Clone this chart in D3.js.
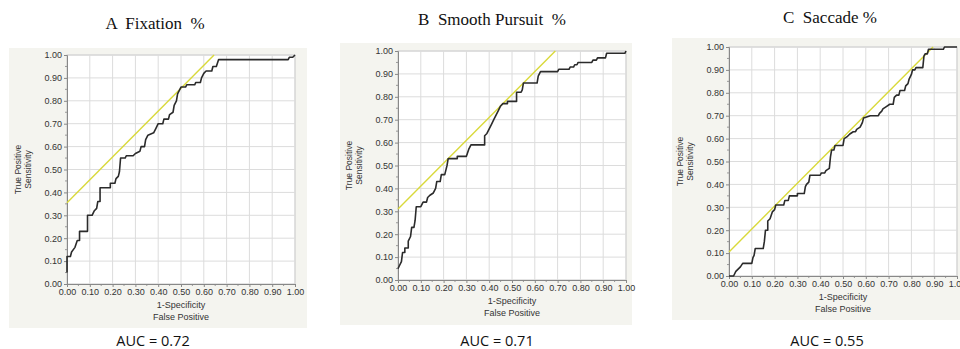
<!DOCTYPE html>
<html>
<head>
<meta charset="utf-8">
<script src="https://cdn.jsdelivr.net/npm/d3@7"></script>
<style>
  body { margin: 0; background: #fff; }
  svg { display: block; }
</style>
</head>
<body>
<div id="chart"></div>
<script>
// ROC points: [1-specificity, sensitivity]
const fixationRoc = [
  [0,0.05],[0,0.12],[0.015,0.12],[0.02,0.14],[0.035,0.16],[0.045,0.19],[0.055,0.19],[0.055,0.23],
  [0.09,0.23],[0.09,0.30],[0.11,0.30],[0.12,0.32],[0.13,0.33],[0.135,0.36],[0.145,0.36],[0.145,0.42],
  [0.19,0.42],[0.19,0.44],[0.21,0.44],[0.215,0.46],[0.225,0.47],[0.23,0.49],[0.235,0.55],[0.255,0.55],
  [0.26,0.56],[0.29,0.56],[0.30,0.57],[0.32,0.58],[0.325,0.60],[0.34,0.60],[0.345,0.63],[0.355,0.65],
  [0.38,0.66],[0.39,0.68],[0.40,0.70],[0.42,0.70],[0.425,0.72],[0.445,0.72],[0.45,0.74],[0.465,0.75],
  [0.47,0.78],[0.48,0.80],[0.485,0.83],[0.495,0.85],[0.50,0.86],[0.52,0.86],[0.525,0.87],[0.56,0.87],
  [0.565,0.88],[0.585,0.88],[0.59,0.90],[0.60,0.92],[0.61,0.93],[0.635,0.93],[0.64,0.95],[0.655,0.95],
  [0.665,0.98],[0.97,0.98],[0.975,0.99],[0.99,0.99],[1.0,1.0]
];
const pursuitRoc = [
  [0,0.05],[0.005,0.06],[0.015,0.08],[0.02,0.12],[0.03,0.12],[0.03,0.14],[0.045,0.14],[0.045,0.17],
  [0.055,0.19],[0.06,0.23],[0.07,0.23],[0.075,0.26],[0.08,0.32],[0.10,0.32],[0.11,0.34],[0.125,0.34],
  [0.13,0.36],[0.14,0.37],[0.155,0.38],[0.165,0.40],[0.17,0.43],[0.185,0.43],[0.19,0.46],[0.205,0.46],
  [0.21,0.48],[0.215,0.50],[0.22,0.53],[0.26,0.53],[0.26,0.54],[0.30,0.54],[0.31,0.57],[0.32,0.59],
  [0.38,0.59],[0.38,0.63],[0.39,0.64],[0.40,0.66],[0.41,0.68],[0.42,0.70],[0.43,0.72],[0.44,0.74],
  [0.45,0.76],[0.46,0.77],[0.48,0.77],[0.48,0.78],[0.52,0.78],[0.52,0.82],[0.54,0.82],[0.545,0.83],
  [0.55,0.86],[0.61,0.86],[0.615,0.89],[0.625,0.91],[0.70,0.91],[0.705,0.92],[0.75,0.92],[0.755,0.93],
  [0.77,0.93],[0.775,0.94],[0.785,0.94],[0.79,0.95],[0.85,0.95],[0.855,0.96],[0.87,0.96],[0.875,0.97],
  [0.91,0.97],[0.915,0.99],[0.995,0.99],[1.0,1.0]
];
const saccadeRoc = [
  [0,0],[0.02,0],[0.03,0.02],[0.04,0.03],[0.05,0.04],[0.06,0.055],[0.10,0.055],[0.105,0.08],
  [0.11,0.09],[0.115,0.12],[0.15,0.12],[0.155,0.15],[0.16,0.20],[0.17,0.20],[0.17,0.24],[0.18,0.25],
  [0.19,0.28],[0.20,0.29],[0.205,0.31],[0.24,0.31],[0.245,0.33],[0.26,0.33],[0.265,0.35],[0.30,0.35],
  [0.30,0.36],[0.33,0.36],[0.335,0.39],[0.34,0.40],[0.35,0.41],[0.355,0.44],[0.40,0.44],[0.405,0.45],
  [0.42,0.45],[0.425,0.46],[0.44,0.47],[0.445,0.52],[0.45,0.55],[0.46,0.55],[0.465,0.57],[0.50,0.57],
  [0.505,0.60],[0.52,0.61],[0.53,0.62],[0.545,0.63],[0.555,0.63],[0.56,0.64],[0.575,0.65],[0.585,0.67],
  [0.59,0.69],[0.62,0.70],[0.655,0.70],[0.66,0.71],[0.67,0.72],[0.675,0.73],[0.69,0.74],[0.705,0.75],
  [0.72,0.75],[0.725,0.78],[0.735,0.79],[0.745,0.79],[0.75,0.81],[0.77,0.81],[0.775,0.83],[0.785,0.84],
  [0.79,0.86],[0.80,0.88],[0.805,0.90],[0.815,0.90],[0.82,0.91],[0.85,0.91],[0.855,0.96],[0.86,0.97],
  [0.87,0.97],[0.875,0.99],[0.94,0.99],[0.945,1.0],[1.0,1.0]
];
const titles = ["A  Fixation  %", "B  Smooth Pursuit  %", "C  Saccade %"];
const aucValues = [0.72, 0.71, 0.55];
// intercept of the yellow tangent line (slope 1)
const tangentIntercepts = [0.355, 0.31, 0.105];
const tickValues = d3.range(0, 1.0001, 0.1);

const panels = [
  { roc: fixationRoc, left: 67,  top: 55, box: [9, 48, 298, 280],  titleX: 155, titleY: 29, aucX: 153 },
  { roc: pursuitRoc,  left: 398, top: 51, box: [340, 43, 292, 282], titleX: 492, titleY: 25, aucX: 497 },
  { roc: saccadeRoc,  left: 729, top: 47, box: [672, 38, 290, 282], titleX: 830, titleY: 23, aucX: 827 }
];
const pw = 228, ph = 229;
const sans = "'Liberation Sans', Arial, sans-serif";

const svg = d3.select("#chart").append("svg")
  .attr("width", 960).attr("height", 349);

panels.forEach(function(p, i) {
  svg.append("rect")
    .attr("x", p.box[0]).attr("y", p.box[1])
    .attr("width", p.box[2]).attr("height", p.box[3])
    .attr("fill", "#f4f4ef");

  svg.append("text")
    .attr("x", p.titleX).attr("y", p.titleY)
    .attr("text-anchor", "middle")
    .style("font-family", "'Liberation Serif', 'Times New Roman', serif")
    .style("font-size", "17px")
    .style("white-space", "pre")
    .attr("fill", "#111")
    .text(titles[i]);

  svg.append("text")
    .attr("x", p.aucX).attr("y", 346)
    .attr("text-anchor", "middle")
    .style("font-family", "'Open Sans', 'Liberation Sans', sans-serif")
    .style("font-size", "14.5px")
    .attr("fill", "#111")
    .text("AUC = " + aucValues[i].toFixed(2));

  const g = svg.append("g").attr("transform", `translate(${p.left},${p.top})`);
  const x = d3.scaleLinear().domain([0, 1]).range([0, pw]);
  const y = d3.scaleLinear().domain([0, 1]).range([ph, 0]);

  g.append("rect").attr("width", pw).attr("height", ph).attr("fill", "#fff")
    .attr("stroke", "#c8c8c8").attr("stroke-width", 1);

  // grid
  g.append("g").selectAll("line").data(tickValues.slice(1)).enter().append("line")
    .attr("x1", d => x(d)).attr("x2", d => x(d)).attr("y1", 0).attr("y2", ph)
    .attr("stroke", "#dcdcdc").attr("stroke-width", 1);
  g.append("g").selectAll("line").data(tickValues.slice(1)).enter().append("line")
    .attr("y1", d => y(d)).attr("y2", d => y(d)).attr("x1", 0).attr("x2", pw)
    .attr("stroke", "#dcdcdc").attr("stroke-width", 1);

  // minor ticks
  const minor = d3.range(0.05, 1, 0.1);
  g.append("g").selectAll("line").data(minor).enter().append("line")
    .attr("x1", -2).attr("x2", 0).attr("y1", d => y(d)).attr("y2", d => y(d))
    .attr("stroke", "#999");
  g.append("g").selectAll("line").data(minor).enter().append("line")
    .attr("y1", ph).attr("y2", ph + 2).attr("x1", d => x(d)).attr("x2", d => x(d))
    .attr("stroke", "#999");

  const xAxis = d3.axisBottom(x).tickValues(tickValues).tickFormat(d3.format(".2f")).tickSize(3).tickPadding(2);
  const yAxis = d3.axisLeft(y).tickValues(tickValues).tickFormat(d3.format(".2f")).tickSize(3).tickPadding(2);

  [g.append("g").attr("transform", `translate(0,${ph})`).call(xAxis),
   g.append("g").call(yAxis)].forEach(function(ax) {
    ax.select(".domain").attr("stroke", "#888");
    ax.selectAll(".tick line").attr("stroke", "#888");
    ax.selectAll("text")
      .style("font-family", sans)
      .style("font-size", "9px")
      .attr("fill", "#333");
  });

  g.append("text").attr("x", pw / 2).attr("y", ph + 24).attr("text-anchor", "middle")
    .style("font-family", sans).style("font-size", "9px")
    .attr("fill", "#333").text("1-Specificity");
  g.append("text").attr("x", pw / 2).attr("y", ph + 36).attr("text-anchor", "middle")
    .style("font-family", sans).style("font-size", "9px")
    .attr("fill", "#333").text("False Positive");

  g.append("text").attr("transform", `translate(-46,${ph / 2}) rotate(-90)`).attr("text-anchor", "middle")
    .style("font-family", sans).style("font-size", "8.5px")
    .attr("fill", "#333").text("True Positive");
  g.append("text").attr("transform", `translate(-36,${ph / 2}) rotate(-90)`).attr("text-anchor", "middle")
    .style("font-family", sans).style("font-size", "8.5px")
    .attr("fill", "#333").text("Sensitivity");

  // tangent line
  const b = tangentIntercepts[i];
  g.append("line")
    .attr("x1", x(0)).attr("y1", y(b))
    .attr("x2", x(1 - b)).attr("y2", y(1))
    .attr("stroke", "#d9d93a").attr("stroke-width", 1.4);

  // ROC curve
  g.append("path")
    .datum(p.roc)
    .attr("d", d3.line().x(d => x(d[0])).y(d => y(d[1])))
    .attr("fill", "none")
    .attr("stroke", "#2b2b2b")
    .attr("stroke-width", 1.6)
    .attr("stroke-linejoin", "round");
});
</script>
</body>
</html>
